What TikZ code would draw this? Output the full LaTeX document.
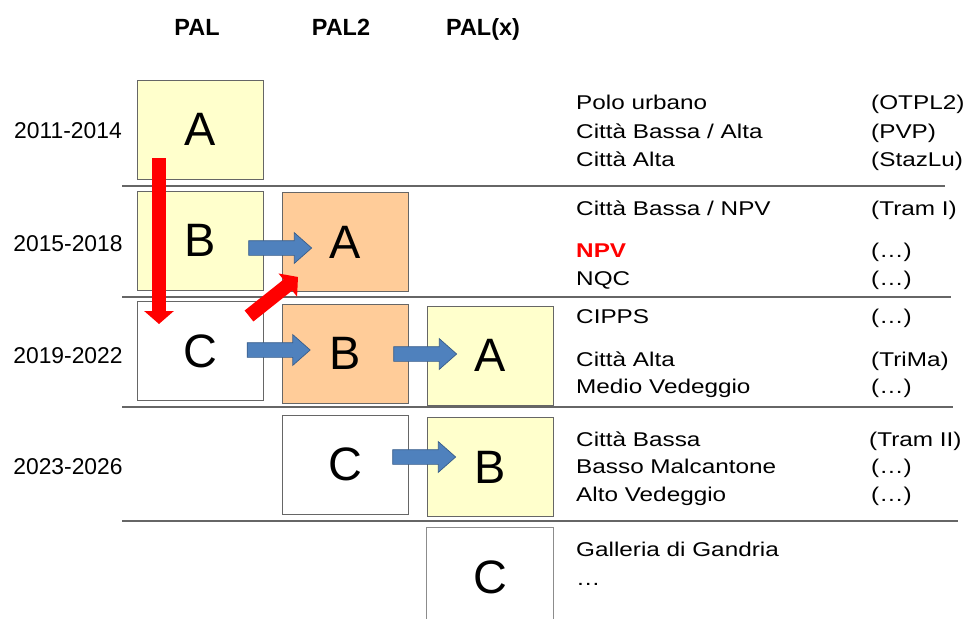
\documentclass[tikz,border=0pt]{standalone}
\usepackage{fontspec}
\setmainfont{Liberation Sans}
\newfontfamily\listfont{Liberation Sans}[FakeStretch=1.22]
\usetikzlibrary{arrows.meta,shapes.arrows,shadows}
\definecolor{palyellow}{HTML}{FFFFCC}
\definecolor{palorange}{HTML}{FFCC99}
\definecolor{arrowblue}{HTML}{4F81BD}
\definecolor{arrowedge}{HTML}{385D8A}
\tikzset{
	letter/.style={font=\fontsize{40}{48}\selectfont},
	palbox/.style={letter,draw=black!60,line width=0.8pt,minimum width=3.78cm,minimum height=2.97cm,inner sep=0pt,
		drop shadow={shadow xshift=0.7pt,shadow yshift=-0.7pt,fill=black,opacity=0.6}},
	shiftarrow/.style={single arrow,fill=arrowblue,draw=arrowedge,line width=0.6pt,minimum height=1.89cm,
		inner xsep=0pt,inner ysep=0.21cm,single arrow head extend=0.24cm,single arrow tip angle=83},
	movearrow/.style={draw=red,line width=0.42cm,-{Triangle[length=0.39cm,width=0.87cm]}},
	separator/.style={draw=black!60,line width=1.6pt},
	column/.style={font=\fontsize{20}{24}\selectfont\bfseries,anchor=base},
	period/.style={font=\fontsize{19.5}{23}\selectfont,anchor=base},
	project/.style={font=\listfont\fontsize{17}{20}\selectfont,anchor=base west,inner sep=0pt},
}
\begin{document}
\begin{tikzpicture}[x=0.03cm,y=-0.03cm]
	\useasboundingbox (0,0) rectangle (971,619);
	% column heads
	\node[column] (pal) at (197,35.7) {PAL};
	\node[column] (pal2) at (341,35.7) {PAL2};
	\node[column] (palx) at (483,35.7) {PAL(x)};

	% periods
	\node[period] (p1) at (68,138.3) {2011-2014};
	\node[period] (p2) at (68,251) {2015-2018};
	\node[period] (p3) at (68,363) {2019-2022};
	\node[period] (p4) at (68,474) {2023-2026};

	\draw[separator] (122,186) -- (945,186);% 2014/2015
	\draw[separator] (122,296.7) -- (951,296.7);% 2018/2019
	\draw[separator] (122,406.7) -- (953,406.7);% 2022/2023
	\draw[separator] (122,520.7) -- (958,520.7);% 2026/...

	% PAL
	\node[palbox,fill=palyellow] (palA) at (200.5,129.5) {A};
	\node[palbox,fill=palyellow] (palB) at (200.5,240.5) {B};
	\node[palbox,fill=white] (palC) at (200.5,351) {C};
	% PAL2
	\node[palbox,fill=palorange] (paltwoA) at (345.5,242) {A};
	\node[palbox,fill=palorange] (paltwoB) at (345.5,353.5) {B};
	\node[palbox,fill=white] (paltwoC) at (345.5,464.5) {C};
	% PAL(x)
	\node[palbox,fill=palyellow] (palxA) at (490,355.5) {A};
	\node[palbox,fill=palyellow] (palxB) at (490,467) {B};
	\fill[white] (426.5,527) rectangle (553.5,619);
	\draw[draw=black!45,line width=0.8pt] (426.5,619) -- (426.5,527) -- (553.5,527) -- (553.5,619);% open box
	\node[letter] (palxC) at (490,577) {C};

	% shifts
	\node[shiftarrow] (sh1) at (276,248) {};
	\node[shiftarrow] (sh2) at (274.5,350) {};
	\node[shiftarrow] (sh3) at (421,354) {};
	\node[shiftarrow] (sh4) at (420,457) {};

	\coordinate (downtop) at (159,158);
	\coordinate (downtip) at (159,324);
	\coordinate (uptail) at (249,316);
	\coordinate (uptip) at (298,277);
	\draw[movearrow] (downtop) -- (downtip);
	\draw[movearrow] (uptail) -- (uptip);

	% projects
	\node[project] (t1) at (576,109.3) {Polo urbano};
	\node[project] (t2) at (576,138.3) {Città Bassa / Alta};
	\node[project] (t3) at (576,166) {Città Alta};
	\node[project] (t4) at (576,215) {Città Bassa / NPV};
	\node[project,text=red,font=\listfont\fontsize{17}{20}\selectfont\bfseries] (t5) at (576,257) {NPV};
	\node[project] (t6) at (576,285) {NQC};
	\node[project] (t7) at (576,323.3) {CIPPS};
	\node[project] (t8) at (576,366.7) {Città Alta};
	\node[project] (t9) at (576,393.3) {Medio Vedeggio};
	\node[project] (t10) at (576,446.7) {Città Bassa};
	\node[project] (t11) at (576,473.3) {Basso Malcantone};
	\node[project] (t12) at (576,501.7) {Alto Vedeggio};
	\node[project] (t13) at (576,556.7) {Galleria di Gandria};
	\node[project] (t14) at (576,585) {…};

	\node[project] (r1) at (871,109.3) {(OTPL2)};
	\node[project] (r2) at (871,138.3) {(PVP)};
	\node[project] (r3) at (871,166) {(StazLu)};
	\node[project] (r4) at (871,215) {(Tram I)};
	\node[project] (r5) at (871,257) {(…)};
	\node[project] (r6) at (871,285) {(…)};
	\node[project] (r7) at (871,323.3) {(…)};
	\node[project] (r8) at (871,366.7) {(TriMa)};
	\node[project] (r9) at (871,393.3) {(…)};
	\node[project] (r10) at (869,446.7) {(Tram II)};
	\node[project] (r11) at (871,473.3) {(…)};
	\node[project] (r12) at (871,501.7) {(…)};
\end{tikzpicture}
\end{document}
